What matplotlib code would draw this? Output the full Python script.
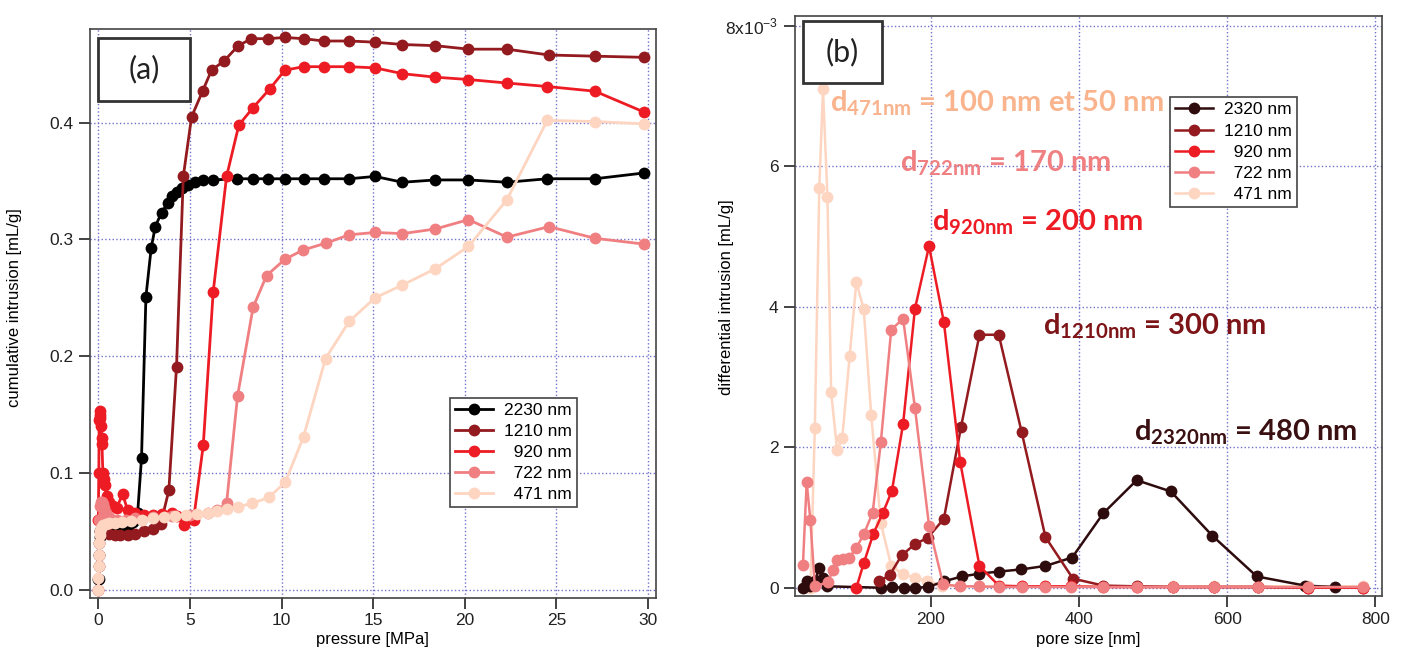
import matplotlib
matplotlib.use("Agg")
import matplotlib.pyplot as plt
from matplotlib.patches import Rectangle

plt.rcParams['font.family'] = ['Liberation Sans Narrow', 'Liberation Sans', 'DejaVu Sans']
plt.rcParams['mathtext.fontset'] = 'custom'
plt.rcParams['mathtext.rm'] = 'Lato'
plt.rcParams['mathtext.bf'] = 'Lato:bold'

# ---- panel (a): cumulative intrusion vs pressure ----
black_p = [0.0, 0.02, 0.05, 0.08, 0.12, 0.18, 0.25, 0.35, 0.5, 0.7, 1.0, 1.3, 1.6, 1.9, 2.15, 2.36,
           2.6, 2.89, 3.11, 3.45, 3.78, 4.04, 4.3, 4.55, 4.9, 5.27, 5.69, 6.27, 7.55, 8.42, 9.24,
           10.2, 11.2, 12.3, 13.7, 15.1, 16.6, 18.4, 20.2, 22.3, 24.5, 27.1, 29.8]
black_v = [0.009, 0.009, 0.03, 0.045, 0.05, 0.052, 0.053, 0.053, 0.052, 0.051, 0.05, 0.051, 0.053,
           0.058, 0.066, 0.113, 0.251, 0.293, 0.311, 0.323, 0.331, 0.337, 0.341, 0.344, 0.347, 0.349,
           0.351, 0.351, 0.352, 0.352, 0.352, 0.352, 0.352, 0.352, 0.352, 0.354, 0.349, 0.351, 0.351,
           0.349, 0.352, 0.352, 0.357]

darkred_p = [0.0, 0.03, 0.06, 0.1, 0.15, 0.25, 0.4, 0.6, 0.9, 1.2, 1.6, 2.0, 2.5, 3.0, 3.4, 3.85,
             4.27, 4.64, 5.09, 5.69, 6.18, 6.87, 7.64, 8.36, 9.24, 10.18, 11.2, 12.3, 13.7, 15.1,
             16.6, 18.4, 20.2, 22.3, 24.6, 27.1, 29.8]
darkred_v = [0.0, 0.02, 0.04, 0.05, 0.052, 0.05, 0.049, 0.048, 0.047, 0.047, 0.047, 0.048, 0.05,
             0.052, 0.056, 0.085, 0.191, 0.354, 0.405, 0.427, 0.445, 0.453, 0.466, 0.472, 0.472,
             0.473, 0.472, 0.470, 0.470, 0.469, 0.467, 0.466, 0.463, 0.463, 0.458, 0.457, 0.456]

red_p = [0.0, 0.03, 0.05, 0.07, 0.1, 0.12, 0.15, 0.18, 0.2, 0.25, 0.3, 0.35, 0.45, 0.6, 0.8, 1.0,
         1.33, 1.6, 2.0, 2.5, 3.0, 3.5, 4.0, 4.3, 4.67, 5.2, 5.73, 6.27, 7.0, 7.67, 8.45, 9.36,
         10.18, 11.2, 12.3, 13.7, 15.1, 16.6, 18.4, 20.2, 22.3, 24.5, 27.1, 29.8]
red_v = [0.06, 0.1, 0.145, 0.153, 0.15, 0.147, 0.14, 0.13, 0.125, 0.1, 0.095, 0.09, 0.08, 0.075,
         0.072, 0.07, 0.082, 0.068, 0.066, 0.064, 0.064, 0.065, 0.066, 0.063, 0.055, 0.06, 0.124,
         0.255, 0.354, 0.398, 0.413, 0.429, 0.445, 0.448, 0.448, 0.448, 0.447, 0.442, 0.439, 0.437,
         0.434, 0.431, 0.427, 0.409]

pink_p = [0.0, 0.03, 0.06, 0.1, 0.15, 0.2, 0.25, 0.3, 0.4, 0.6, 1.0, 1.5, 2.0, 3.0, 4.0, 5.0, 6.0,
          6.5, 7.0, 7.6, 8.45, 9.18, 10.18, 11.18, 12.45, 13.69, 15.1, 16.6, 18.4, 20.2, 22.3,
          24.6, 27.1, 29.8]
pink_v = [0.0, 0.03, 0.06, 0.072, 0.075, 0.075, 0.073, 0.07, 0.066, 0.062, 0.06, 0.06, 0.061,
          0.062, 0.063, 0.064, 0.066, 0.068, 0.074, 0.166, 0.242, 0.269, 0.283, 0.291, 0.297,
          0.304, 0.306, 0.305, 0.309, 0.317, 0.302, 0.311, 0.301, 0.296]

peach_p = [0.0, 0.0, 0.02, 0.04, 0.06, 0.08, 0.1, 0.15, 0.25, 0.4, 0.6, 0.9, 1.3, 1.8, 2.4, 3.0,
           3.6, 4.2, 4.8, 5.4, 6.0, 6.5, 7.0, 7.6, 8.4, 9.3, 10.2, 11.2, 12.4, 13.7, 15.1, 16.6,
           18.4, 20.2, 22.3, 24.5, 27.1, 29.8]
peach_v = [0.0, 0.01, 0.02, 0.03, 0.04, 0.047, 0.05, 0.053, 0.055, 0.056, 0.057, 0.057, 0.058,
           0.059, 0.06, 0.061, 0.062, 0.063, 0.064, 0.065, 0.066, 0.067, 0.069, 0.071, 0.074,
           0.079, 0.092, 0.131, 0.198, 0.230, 0.250, 0.261, 0.275, 0.294, 0.334, 0.402, 0.401, 0.399]

labels_a = ["2230 nm", "1210 nm", "\u2007920 nm", "\u2007722 nm", "\u2007471 nm"]

# ---- panel (b): differential intrusion (x1e-3 mL/g) vs pore size ----
black_d = [28, 33, 38, 44, 50, 55, 61, 133, 148, 164, 179, 197, 218, 242, 266, 292, 322, 355,
           391, 433, 478, 524, 580, 640, 705, 745]
black_i = [0.0, 0.09, 0.03, 0.1, 0.28, 0.14, 0.02, 0.0, 0.01, 0.0, 0.0, 0.01, 0.09, 0.16, 0.2,
           0.23, 0.26, 0.31, 0.43, 1.06, 1.53, 1.37, 0.74, 0.16, 0.03, 0.01]

darkred_d = [131, 145, 161, 179, 196, 218, 241, 266, 292, 323, 355, 392, 433, 478, 527, 582, 641,
             709, 783]
darkred_i = [0.09, 0.18, 0.46, 0.62, 0.71, 0.98, 2.28, 3.6, 3.6, 2.21, 0.72, 0.13, 0.03, 0.02,
             0.01, 0.01, 0.01, 0.0, 0.0]

red_d = [100, 110, 123, 136, 148, 163, 179, 198, 218, 240, 266, 292, 323, 355, 390, 432, 478,
         527, 582, 641, 709, 783]
red_i = [0.0, 0.35, 0.77, 1.07, 1.38, 2.33, 3.97, 4.86, 3.78, 1.79, 0.31, 0.03, 0.02, 0.02, 0.02,
         0.01, 0.01, 0.01, 0.01, 0.01, 0.0, 0.0]

pink_d = [28, 33, 38, 44, 62, 68, 74, 82, 90, 100, 110, 122, 133, 147, 163, 179, 198, 217, 240,
          265, 292, 323, 355, 390, 432, 478, 527, 582, 641, 709, 783]
pink_i = [0.33, 1.5, 0.96, 0.02, 0.08, 0.25, 0.39, 0.41, 0.42, 0.57, 0.76, 1.07, 2.07, 3.67, 3.83,
          2.56, 0.88, 0.05, 0.02, 0.02, 0.01, 0.01, 0.01, 0.01, 0.01, 0.01, 0.01, 0.01, 0.01,
          0.01, 0.01]

peach_d = [38, 44, 50, 55, 61, 66, 74, 81, 91, 100, 110, 120, 133, 147, 163, 179, 195, 216, 240,
           265, 292, 323, 355, 390, 432, 478, 527, 582, 641, 709, 783]
peach_i = [0.0, 2.27, 5.69, 7.09, 5.56, 2.78, 1.96, 2.13, 3.3, 4.35, 3.96, 2.46, 0.92, 0.31, 0.19,
           0.14, 0.10, 0.03, 0.02, 0.02, 0.02, 0.02, 0.02, 0.02, 0.02, 0.02, 0.02, 0.02, 0.02,
           0.02, 0.02]

labels_b = ["2320 nm", "1210 nm", "\u2007920 nm", "\u2007722 nm", "\u2007471 nm"]

colors = ["#000000", "#931a1e", "#ed1c24", "#f07f82", "#fdd5c0"]
colors_b = ["#2e0b0d", "#931a1e", "#ed1c24", "#f07f82", "#fdd5c0"]
grid_c = "#7272cc"
spine_c = "#444444"

fig = plt.figure(figsize=(14.01, 6.62), dpi=100)

# ---------------- (a) ----------------
ax1 = fig.add_axes([0.0640, 0.0974, 0.4042, 0.8583])
series_a = [(black_p, black_v), (darkred_p, darkred_v), (red_p, red_v),
            (pink_p, pink_v), (peach_p, peach_v)]
for (x, y), c, lab in zip(series_a, colors, labels_a):
    ax1.plot(x, y, color=c, lw=2, marker='o', ms=8.5, mec=c, mew=0, label=lab)
ax1.set_xlim(-0.47, 30.43)
ax1.set_ylim(-0.0067, 0.480)
ax1.set_xticks([0, 5, 10, 15, 20, 25, 30])
ax1.set_yticks([0.0, 0.1, 0.2, 0.3, 0.4])
ax1.set_yticklabels(["0.0", "0.1", "0.2", "0.3", "0.4"])
ax1.set_xlabel("pressure [MPa]", fontsize=12)
ax1.set_ylabel("cumulative intrusion [mL/g]", fontsize=12, family=['Liberation Sans', 'DejaVu Sans'])
ax1.xaxis.set_label_coords(0.5, -0.06)
ax1.yaxis.set_label_coords(-0.12, 0.51)
leg1 = ax1.legend(loc='upper left', bbox_to_anchor=(450 / 1401, 1 - 398 / 662),
                  bbox_transform=fig.transFigure, fontsize=12.5, frameon=True, fancybox=False,
                  edgecolor=spine_c, framealpha=1, handlelength=2.2, labelspacing=0.33,
                  borderpad=0.3, handletextpad=0.6, borderaxespad=0)
leg1.get_frame().set_linewidth(1.2)

# ---------------- (b) ----------------
ax2 = fig.add_axes([0.5671, 0.1000, 0.4193, 0.8763])
series_b = [(black_d, black_i), (darkred_d, darkred_i), (red_d, red_i),
            (pink_d, pink_i), (peach_d, peach_i)]
zorders = [3, 4, 5, 6, 2]
for (x, y), c, lab, z in zip(series_b, colors_b, labels_b, zorders):
    ax2.plot(x, y, color=c, lw=1.8, marker='o', ms=8.5, mec=c, mew=0, label=lab, zorder=z)
ax2.set_xlim(16.6, 808.7)
ax2.set_ylim(-0.115, 8.14)
ax2.set_xticks([200, 400, 600, 800])
ax2.set_yticks([0, 2, 4, 6, 8])
ax2.set_yticklabels(["0", "2", "4", "6", "8x10$^{\\mathregular{-3}}$"])
ax2.set_xlabel("pore size [nm]", fontsize=12)
ax2.set_ylabel("differential intrusion [mL/g]", fontsize=12, family=['Liberation Sans', 'DejaVu Sans'])
ax2.xaxis.set_label_coords(0.5, -0.062)
ax2.yaxis.set_label_coords(-0.103, 0.515)
leg2 = ax2.legend(loc='upper left', bbox_to_anchor=(1170 / 1401, 1 - 97 / 662),
                  bbox_transform=fig.transFigure, fontsize=12.5, frameon=True, fancybox=False,
                  edgecolor=spine_c, framealpha=1, handlelength=2.2, labelspacing=0.35,
                  borderpad=0.3, handletextpad=0.6, borderaxespad=0)
leg2.get_frame().set_linewidth(1.2)

ann = [(64, 6.9, "471nm", "100 nm et 50 nm", "#f9b48e"),
       (159, 6.04, "722nm", "170 nm", "#f07f82"),
       (202, 5.2, "920nm", "200 nm", "#ed1c24"),
       (352, 3.72, "1210nm", "300 nm", "#7d1518"),
       (474, 2.21, "2320nm", "480 nm", "#3b1012")]
for x, y, sub, val, c in ann:
    ax2.text(x, y, r"$\mathbf{d_{" + sub + "}}$ = " + val, color=c, fontsize=21,
             fontweight='bold', family=['Lato', 'DejaVu Sans'],
             ha='left', va='center', zorder=10)

for ax in (ax1, ax2):
    ax.grid(True, color=grid_c, linestyle=':', linewidth=1.0)
    ax.set_axisbelow(True)
    ax.tick_params(direction='out', length=8, width=1.2, labelsize=12.5, colors='#222222')
    for s in ax.spines.values():
        s.set_color(spine_c)
        s.set_linewidth(1.2)

# panel labels in boxes
for (l, b, w, h, t) in [(98 / 1401, 1 - 101 / 662, 92 / 1401, 63 / 662, "(a)"),
                        (803 / 1401, 1 - 83 / 662, 79 / 1401, 62 / 662, "(b)")]:
    fig.patches.append(Rectangle((l, b), w, h, transform=fig.transFigure, fill=True,
                                 facecolor='white', edgecolor='#333333', lw=2, zorder=20))
    fig.text(l + w / 2, b + h / 2, t, fontsize=22, ha='center', va='center',
             family=['Lato', 'DejaVu Sans'], color='#222222', zorder=21)

fig.savefig("out.png", dpi=100)
